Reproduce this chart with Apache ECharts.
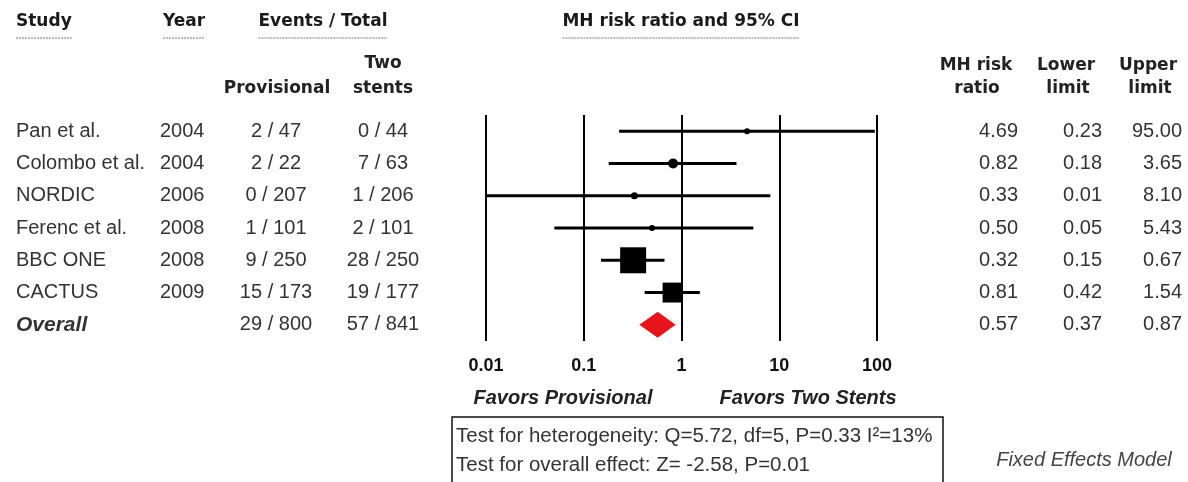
<!DOCTYPE html>
<html>
<head>
<meta charset="utf-8">
<script src="https://cdn.jsdelivr.net/npm/echarts@6/dist/echarts.min.js"></script>
<style>
  html, body { margin: 0; padding: 0; background: #fff; }
  #chart { width: 1188px; height: 482px; }
</style>
</head>
<body>
<div id="chart"></div>
<script>
// ---- Study data ----
const studies = ['Pan et al.', 'Colombo et al.', 'NORDIC', 'Ferenc et al.', 'BBC ONE', 'CACTUS'];
const years = [2004, 2004, 2006, 2008, 2008, 2009];
const provEvents = [2, 2, 0, 1, 9, 15];
const provTotal = [47, 22, 207, 101, 250, 173];
const twoEvents = [0, 7, 1, 2, 28, 19];
const twoTotal = [44, 63, 206, 101, 250, 177];
const riskRatio = [4.69, 0.82, 0.33, 0.50, 0.32, 0.81];
const lowerLimit = [0.23, 0.18, 0.01, 0.05, 0.15, 0.42];
const upperLimit = [95.00, 3.65, 8.10, 5.43, 0.67, 1.54];
// relative study weight (%), sets the marker area
const studyWeight = [2.7, 7.5, 3.7, 2.7, 51, 30];

const overallLabel = 'Overall';
const overallRatio = 0.57;
const overallLower = 0.37;
const overallUpper = 0.87;

const tickValues = [0.01, 0.1, 1, 10, 100];
const tickLabels = ['0.01', '0.1', '1', '10', '100'];

const heterogeneityText = 'Test for heterogeneity: Q=5.72, df=5, P=0.33 I\u00b2=13%';
const overallEffectText = 'Test for overall effect: Z= -2.58, P=0.01';
const modelText = 'Fixed Effects Model';

// ---- Fonts ----
const FONT_HEAD = 'bold 17px "DejaVu Sans", Verdana, sans-serif';
const FONT_DATA = '20px "Liberation Sans", Arial, sans-serif';
const FONT_OVERALL = 'italic bold 21px "Liberation Sans", Arial, sans-serif';
const FONT_FAVOR = 'italic bold 20px "Liberation Sans", Arial, sans-serif';
const FONT_BOX = '20.5px "Liberation Sans", Arial, sans-serif';
const FONT_MODEL = 'italic 20px "Liberation Sans", Arial, sans-serif';

const measureCtx = document.createElement('canvas').getContext('2d');
function textWidth(str, font) {
  measureCtx.font = font;
  return measureCtx.measureText(str).width;
}

function markerSize(w) { return 3.64 * Math.sqrt(w); }

const chart = echarts.init(document.getElementById('chart'), null, { renderer: 'canvas' });

const rowNames = studies.concat([overallLabel]);

function renderStudy(params, api) {
  const row = api.value(1);
  const est = api.coord([api.value(0), row]);
  const lo = api.coord([api.value(2), row]);
  const hi = api.coord([api.value(3), row]);
  const s = markerSize(studyWeight[params.dataIndex]);
  const children = [{
    type: 'line',
    shape: { x1: lo[0], y1: lo[1], x2: hi[0], y2: hi[1] },
    style: { stroke: '#000', lineWidth: 3 }
  }];
  if (s < 12) {
    children.push({ type: 'circle', shape: { cx: est[0], cy: est[1], r: s / 2 }, style: { fill: '#000' } });
  } else {
    children.push({ type: 'rect', shape: { x: est[0] - s / 2, y: est[1] - s / 2, width: s, height: s }, style: { fill: '#000' } });
  }
  return { type: 'group', children };
}

function renderDiamond(params, api) {
  const row = api.value(1);
  const est = api.coord([api.value(0), row]);
  const lo = api.coord([api.value(2), row]);
  const hi = api.coord([api.value(3), row]);
  const h = 13;
  return {
    type: 'polygon',
    shape: { points: [[lo[0], lo[1]], [est[0], est[1] - h], [hi[0], hi[1]], [est[0], est[1] + h]] },
    style: { fill: '#e8141c' }
  };
}

chart.setOption({
  animation: false,
  backgroundColor: '#fff',
  grid: { left: 486, right: 311, top: 115, bottom: 141 },
  xAxis: {
    type: 'log',
    logBase: 10,
    min: tickValues[0],
    max: tickValues[tickValues.length - 1],
    axisLine: { show: false },
    axisTick: { show: false },
    splitLine: { show: true, lineStyle: { color: '#000', width: 2 } },
    axisLabel: {
      margin: 16,
      fontFamily: '"Liberation Sans", Arial, sans-serif',
      fontWeight: 'bold',
      fontSize: 18,
      color: '#111',
      formatter: function (v) {
        const i = Math.round(Math.log10(v)) + 2;
        return tickLabels[i] !== undefined ? tickLabels[i] : '';
      }
    }
  },
  yAxis: {
    type: 'category',
    data: rowNames,
    inverse: true,
    show: false
  },
  series: [
    {
      type: 'custom',
      renderItem: renderStudy,
      encode: { x: [0, 2, 3], y: 1 },
      data: riskRatio.map((r, i) => [r, i, lowerLimit[i], upperLimit[i]]),
      clip: false
    },
    {
      type: 'custom',
      renderItem: renderDiamond,
      encode: { x: [0, 2, 3], y: 1 },
      data: [[overallRatio, studies.length, overallLower, overallUpper]],
      clip: false
    }
  ]
});

// ---- Table text around the plot ----
const sum = arr => arr.reduce((a, b) => a + b, 0);
const rowY = rowNames.map((_, i) => chart.convertToPixel({ yAxisIndex: 0 }, i));

const els = [];
function txt(x, y, text, font, align, fill) {
  els.push({
    type: 'text', x: x, y: y,
    style: { text: String(text), font: font, textAlign: align || 'left', textVerticalAlign: 'middle', fill: fill || '#222' }
  });
}
function underlined(x, y, text, font, align) {
  txt(x, y, text, font, align, '#1a1a1a');
  const w = textWidth(text, font);
  let x1 = x;
  if (align === 'center') x1 = x - w / 2;
  else if (align === 'right') x1 = x - w;
  els.push({ type: 'line', shape: { x1: x1, y1: y + 16, x2: x1 + w, y2: y + 16 }, style: { stroke: '#777', lineWidth: 1, lineDash: [2, 1] } });
}

// column headers
underlined(16, 22, 'Study', FONT_HEAD, 'left');
underlined(163, 22, 'Year', FONT_HEAD, 'left');
underlined(323, 22, 'Events / Total', FONT_HEAD, 'center');
underlined(681, 22, 'MH risk ratio and 95% CI', FONT_HEAD, 'center');
txt(383, 64, 'Two', FONT_HEAD, 'center');
txt(277, 89, 'Provisional', FONT_HEAD, 'center');
txt(383, 89, 'stents', FONT_HEAD, 'center');
txt(976, 66, 'MH risk', FONT_HEAD, 'center');
txt(977, 89, 'ratio', FONT_HEAD, 'center');
txt(1066, 66, 'Lower', FONT_HEAD, 'center');
txt(1068, 89, 'limit', FONT_HEAD, 'center');
txt(1148, 66, 'Upper', FONT_HEAD, 'center');
txt(1150, 89, 'limit', FONT_HEAD, 'center');

// study rows
studies.forEach((name, i) => {
  const y = rowY[i];
  txt(16, y, name, FONT_DATA, 'left', '#333');
  txt(160, y, years[i], FONT_DATA, 'left', '#333');
  txt(276, y, provEvents[i] + ' / ' + provTotal[i], FONT_DATA, 'center', '#333');
  txt(383, y, twoEvents[i] + ' / ' + twoTotal[i], FONT_DATA, 'center', '#333');
  txt(1018, y, riskRatio[i].toFixed(2), FONT_DATA, 'right', '#333');
  txt(1102, y, lowerLimit[i].toFixed(2), FONT_DATA, 'right', '#333');
  txt(1182, y, upperLimit[i].toFixed(2), FONT_DATA, 'right', '#333');
});

// overall row
const yo = rowY[studies.length];
txt(16, yo, overallLabel, FONT_OVERALL, 'left', '#333');
txt(276, yo, sum(provEvents) + ' / ' + sum(provTotal), FONT_DATA, 'center', '#333');
txt(383, yo, sum(twoEvents) + ' / ' + sum(twoTotal), FONT_DATA, 'center', '#333');
txt(1018, yo, overallRatio.toFixed(2), FONT_DATA, 'right', '#333');
txt(1102, yo, overallLower.toFixed(2), FONT_DATA, 'right', '#333');
txt(1182, yo, overallUpper.toFixed(2), FONT_DATA, 'right', '#333');

// favour captions
txt(563, 398, 'Favors Provisional', FONT_FAVOR, 'center', '#222');
txt(808, 398, 'Favors Two Stents', FONT_FAVOR, 'center', '#222');

// statistics box
els.push({ type: 'rect', shape: { x: 452, y: 417, width: 491, height: 80 }, style: { fill: 'none', stroke: '#111', lineWidth: 1.5 } });
txt(456, 436, heterogeneityText, FONT_BOX, 'left', '#333');
txt(456, 465, overallEffectText, FONT_BOX, 'left', '#333');

txt(1084, 460, modelText, FONT_MODEL, 'center', '#444');

chart.setOption({ graphic: { elements: els } });
</script>
</body>
</html>
